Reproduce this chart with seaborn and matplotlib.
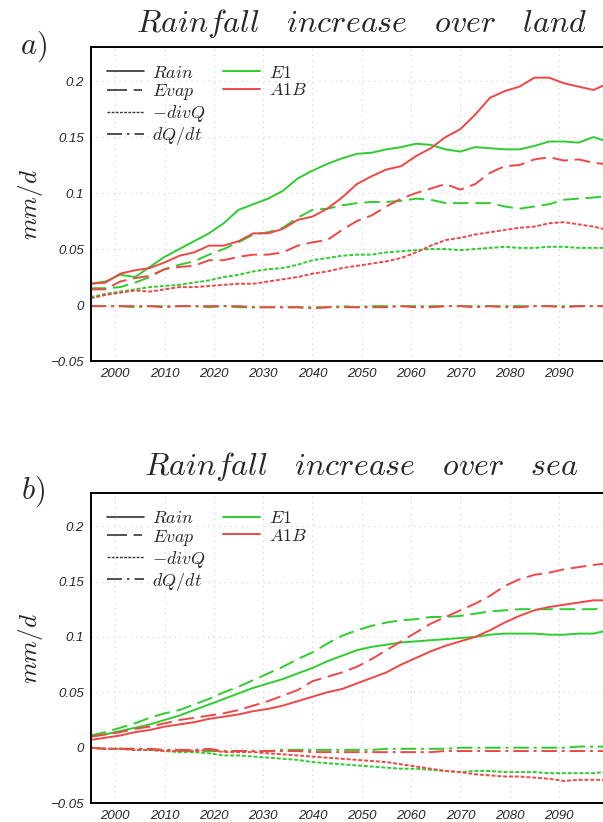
import matplotlib
matplotlib.use("Agg")
import matplotlib.pyplot as plt
import seaborn as sns
import pandas as pd
from matplotlib.lines import Line2D

# years of the (smoothed) series
years = [1995, 1998, 2001, 2004, 2007, 2010, 2013, 2016, 2019, 2022, 2025, 2028,
         2031, 2034, 2037, 2040, 2043, 2046, 2049, 2052, 2055, 2058, 2061, 2064,
         2067, 2070, 2073, 2076, 2079, 2082, 2085, 2088, 2091, 2094, 2097, 2099]

# ---- panel a: land ----
land_rain_e1 = [0.019, 0.021, 0.027, 0.025, 0.034, 0.043, 0.050, 0.057, 0.064, 0.073, 0.085, 0.090,
                0.095, 0.102, 0.113, 0.120, 0.126, 0.131, 0.135, 0.136, 0.139, 0.141, 0.144, 0.143,
                0.139, 0.137, 0.141, 0.140, 0.139, 0.139, 0.142, 0.146, 0.146, 0.145, 0.150, 0.147]
land_rain_a1b = [0.019, 0.020, 0.028, 0.031, 0.033, 0.038, 0.044, 0.047, 0.053, 0.053, 0.057, 0.064,
                 0.064, 0.068, 0.076, 0.079, 0.086, 0.096, 0.108, 0.115, 0.121, 0.124, 0.133, 0.140,
                 0.150, 0.157, 0.170, 0.185, 0.191, 0.195, 0.203, 0.203, 0.198, 0.195, 0.192, 0.196]
land_evap_e1 = [0.015, 0.015, 0.016, 0.020, 0.025, 0.032, 0.036, 0.039, 0.045, 0.050, 0.056, 0.063,
                0.065, 0.069, 0.078, 0.085, 0.086, 0.089, 0.091, 0.092, 0.092, 0.093, 0.095, 0.094,
                0.091, 0.091, 0.091, 0.091, 0.088, 0.086, 0.088, 0.090, 0.094, 0.095, 0.096, 0.097]
land_evap_a1b = [0.014, 0.014, 0.021, 0.024, 0.026, 0.032, 0.034, 0.035, 0.040, 0.040, 0.043, 0.045,
                 0.045, 0.047, 0.053, 0.056, 0.058, 0.067, 0.075, 0.080, 0.088, 0.095, 0.100, 0.104,
                 0.108, 0.103, 0.108, 0.118, 0.124, 0.125, 0.130, 0.132, 0.129, 0.130, 0.127, 0.126]
land_divq_e1 = [0.007, 0.010, 0.012, 0.014, 0.016, 0.017, 0.018, 0.020, 0.022, 0.025, 0.027, 0.030,
                0.032, 0.033, 0.036, 0.040, 0.042, 0.044, 0.045, 0.045, 0.047, 0.048, 0.049, 0.050,
                0.050, 0.049, 0.050, 0.051, 0.052, 0.051, 0.051, 0.052, 0.052, 0.051, 0.051, 0.051]
land_divq_a1b = [0.006, 0.009, 0.011, 0.013, 0.012, 0.014, 0.016, 0.016, 0.017, 0.018, 0.019, 0.019,
                 0.021, 0.023, 0.025, 0.028, 0.030, 0.033, 0.035, 0.037, 0.039, 0.042, 0.047, 0.053,
                 0.058, 0.060, 0.063, 0.065, 0.067, 0.069, 0.070, 0.073, 0.074, 0.072, 0.070, 0.068]
land_dqdt_e1 = [-0.001, -0.001, -0.001, -0.002, -0.001, -0.001, -0.001, -0.001, -0.002, -0.001, -0.002, -0.002,
                -0.002, -0.002, -0.002, -0.002, -0.002, -0.001, -0.002, -0.001, -0.001, -0.001, -0.001, -0.001,
                -0.001, -0.001, -0.001, -0.001, -0.001, -0.001, -0.001, -0.001, -0.001, -0.001, -0.001, -0.001]
land_dqdt_a1b = [-0.001, -0.001, -0.001, -0.001, -0.001, -0.002, -0.001, -0.001, -0.001, -0.001, -0.001, -0.002,
                 -0.002, -0.002, -0.002, -0.003, -0.002, -0.002, -0.002, -0.002, -0.002, -0.001, -0.002, -0.002,
                 -0.001, -0.001, -0.002, -0.001, -0.002, -0.002, -0.001, -0.001, -0.002, -0.001, -0.001, -0.001]

# ---- panel b: sea ----
sea_rain_e1 = [0.010, 0.012, 0.015, 0.018, 0.021, 0.025, 0.029, 0.034, 0.039, 0.044, 0.049, 0.054,
               0.058, 0.062, 0.067, 0.072, 0.078, 0.083, 0.088, 0.091, 0.093, 0.095, 0.096, 0.097,
               0.098, 0.099, 0.100, 0.102, 0.103, 0.103, 0.103, 0.102, 0.102, 0.103, 0.103, 0.105]
sea_rain_a1b = [0.007, 0.009, 0.011, 0.014, 0.016, 0.019, 0.021, 0.023, 0.026, 0.028, 0.030, 0.033,
                0.035, 0.038, 0.042, 0.046, 0.050, 0.053, 0.058, 0.063, 0.068, 0.075, 0.081, 0.087,
                0.092, 0.096, 0.100, 0.106, 0.113, 0.119, 0.124, 0.127, 0.129, 0.131, 0.133, 0.133]
sea_evap_e1 = [0.011, 0.014, 0.018, 0.022, 0.027, 0.031, 0.034, 0.039, 0.044, 0.050, 0.055, 0.061,
               0.067, 0.073, 0.080, 0.086, 0.094, 0.101, 0.106, 0.110, 0.113, 0.115, 0.116, 0.118,
               0.118, 0.119, 0.121, 0.123, 0.124, 0.125, 0.125, 0.125, 0.125, 0.125, 0.125, 0.126]
sea_evap_a1b = [0.010, 0.012, 0.014, 0.017, 0.019, 0.022, 0.025, 0.027, 0.029, 0.031, 0.034, 0.038,
                0.042, 0.047, 0.052, 0.060, 0.064, 0.068, 0.073, 0.080, 0.088, 0.096, 0.104, 0.112,
                0.118, 0.124, 0.130, 0.137, 0.146, 0.152, 0.156, 0.158, 0.161, 0.163, 0.165, 0.166]
sea_divq_e1 = [0.000, -0.001, -0.001, -0.002, -0.002, -0.003, -0.004, -0.004, -0.005, -0.007, -0.007, -0.008,
               -0.009, -0.010, -0.011, -0.013, -0.014, -0.015, -0.016, -0.017, -0.018, -0.019, -0.019, -0.020,
               -0.021, -0.022, -0.021, -0.021, -0.022, -0.022, -0.022, -0.023, -0.023, -0.023, -0.023, -0.022]
sea_divq_a1b = [0.000, -0.001, -0.001, -0.002, -0.002, -0.003, -0.003, -0.003, -0.002, -0.004, -0.004, -0.004,
                -0.005, -0.006, -0.007, -0.008, -0.009, -0.010, -0.011, -0.012, -0.013, -0.015, -0.017, -0.019,
                -0.021, -0.022, -0.024, -0.025, -0.026, -0.026, -0.027, -0.028, -0.030, -0.029, -0.029, -0.029]
sea_dqdt_e1 = [0.000, -0.001, -0.001, -0.001, -0.002, -0.002, -0.003, -0.003, -0.003, -0.003, -0.003, -0.003,
               -0.003, -0.002, -0.002, -0.002, -0.002, -0.002, -0.002, -0.002, -0.001, -0.001, -0.001, -0.001,
               -0.001, 0.000, 0.000, 0.000, 0.000, 0.000, 0.000, 0.000, 0.000, 0.001, 0.001, 0.001]
sea_dqdt_a1b = [0.000, -0.001, -0.001, -0.001, -0.001, -0.002, -0.002, -0.002, -0.001, -0.003, -0.003, -0.003,
                -0.003, -0.003, -0.003, -0.004, -0.004, -0.004, -0.004, -0.004, -0.004, -0.004, -0.004, -0.004,
                -0.003, -0.003, -0.003, -0.003, -0.003, -0.003, -0.003, -0.003, -0.003, -0.003, -0.003, -0.003]

terms = ["Rain", "Evap", "divQ", "dQdt"]
scenarios = ["E1", "A1B"]
ytick_vals = [-0.05, 0, 0.05, 0.1, 0.15, 0.2]
ytick_labels = ["\u22120.05", "0", "0.05", "0.1", "0.15", "0.2"]
xtick_vals = [2000, 2010, 2020, 2030, 2040, 2050, 2060, 2070, 2080, 2090]

panels = [
    ("a)", "Rainfall increase over land",
     {("Rain", "E1"): land_rain_e1, ("Rain", "A1B"): land_rain_a1b,
      ("Evap", "E1"): land_evap_e1, ("Evap", "A1B"): land_evap_a1b,
      ("divQ", "E1"): land_divq_e1, ("divQ", "A1B"): land_divq_a1b,
      ("dQdt", "E1"): land_dqdt_e1, ("dQdt", "A1B"): land_dqdt_a1b}),
    ("b)", "Rainfall increase over sea",
     {("Rain", "E1"): sea_rain_e1, ("Rain", "A1B"): sea_rain_a1b,
      ("Evap", "E1"): sea_evap_e1, ("Evap", "A1B"): sea_evap_a1b,
      ("divQ", "E1"): sea_divq_e1, ("divQ", "A1B"): sea_divq_a1b,
      ("dQdt", "E1"): sea_dqdt_e1, ("dQdt", "A1B"): sea_dqdt_a1b}),
]

GREEN = "#2fcc2f"
RED = "#ef4646"
palette = {"E1": GREEN, "A1B": RED}
dashes = {"Rain": "", "Evap": (8, 3.5), "divQ": (2, 1), "dQdt": (8, 2.5, 1.5, 2.5)}

sns.set_theme(style="white")
plt.rcParams["mathtext.fontset"] = "cm"
plt.rcParams["font.family"] = ["Liberation Sans", "DejaVu Sans"]

fig = plt.figure(figsize=(6.03, 8.22), dpi=100)
# axes positions (figure fraction): the right edge is cropped as in the reference
positions = [[0.1503, 0.5608, 0.8503, 0.3815], [0.1503, 0.0230, 0.8503, 0.3774]]
title_y = [0.972, 0.432]
letter_y = [0.943, 0.402]

for (letter, title, series), pos, ty, ly in zip(panels, positions, title_y, letter_y):
    rows = []
    for (term, scen), vals in series.items():
        for yr, v in zip(years, vals):
            rows.append({"year": yr, "value": v, "term": term, "scenario": scen})
    df = pd.DataFrame(rows)

    ax = fig.add_axes(pos)
    sns.lineplot(data=df, x="year", y="value", hue="scenario", style="term",
                 palette=palette, dashes=dashes, hue_order=scenarios, style_order=terms,
                 linewidth=1.4, legend=False, ax=ax)

    ax.set_xlim(1995, 2099)
    ax.set_ylim(-0.05, 0.23)
    ax.set_xticks(xtick_vals)
    ax.set_xticklabels([str(x) for x in xtick_vals], fontstyle="italic", fontsize=9.5)
    ax.set_yticks(ytick_vals)
    ax.set_yticklabels(ytick_labels, fontstyle="italic", fontsize=9.5)
    ax.tick_params(axis="both", direction="out", length=3, width=1, color="black", pad=2)
    ax.grid(True, color="#cfcfcf", linestyle=(0, (1, 4)), linewidth=0.8)
    for side in ["left", "bottom", "top"]:
        ax.spines[side].set_color("black")
        ax.spines[side].set_linewidth(1.4)
    ax.spines["right"].set_visible(False)
    ax.set_xlabel("")
    ax.set_ylabel(r"$\mathit{mm/d}$", fontsize=18, labelpad=4)

    handles = [
        Line2D([], [], color="#333333", lw=1.2, linestyle="-"),
        Line2D([], [], color="#333333", lw=1.2, dashes=(12, 4, 5, 4)),
        Line2D([], [], color="#333333", lw=1.0, dashes=(2, 1)),
        Line2D([], [], color="#333333", lw=1.2, dashes=(9, 3, 1.5, 3)),
        Line2D([], [], color=GREEN, lw=1.4),
        Line2D([], [], color=RED, lw=1.4),
        Line2D([], [], color="none"),
        Line2D([], [], color="none"),
    ]
    labels = [r"$\mathit{Rain}$", r"$\mathit{Evap}$", r"$-\mathit{divQ}$", r"$\mathit{dQ/dt}$",
              r"$\mathit{E1}$", r"$\mathit{A1B}$", "", ""]
    ax.legend(handles, labels, ncol=2, loc="upper left", bbox_to_anchor=(0.01, 0.98),
              frameon=False, fontsize=13, handlelength=2.05, handletextpad=0.45,
              labelspacing=0.05, columnspacing=1.0, borderaxespad=0.2)

    fig.text(0.60, ty, r"$\mathit{" + title.replace(" ", r"\ \ \ ") + "}$",
             ha="center", va="center", fontsize=23)
    fig.text(0.055, ly, r"$\mathit{" + letter + "}$", ha="center", va="center", fontsize=22)

fig.savefig("out.png", dpi=100)
